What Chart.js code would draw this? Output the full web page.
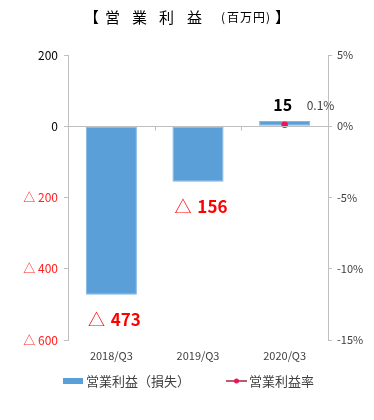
<!DOCTYPE html>
<html>
<head>
<meta charset="utf-8">
<script src="https://cdn.jsdelivr.net/npm/chart.js@4/dist/chart.umd.min.js"></script>
<style>
	body { margin: 0; background: #fff; }
	#wrap { width: 374px; height: 420px; }
</style>
</head>
<body>
<div id="wrap"><canvas id="profitChart" width="374" height="420"></canvas></div>
<script>
var FONT = "'Noto Sans CJK JP', 'Noto Sans', sans-serif";

var quarters = ['2018/Q3', '2019/Q3', '2020/Q3'];
var profit = [-473, -156, 15];
var profitRate = [null, null, 0.1];
var leftTicks = [200, 0, -200, -400, -600];
var rightTicks = [5, 0, -5, -10, -15];

function fmtProfit(v){
	return v < 0 ? '△ ' + Math.abs(v) : String(v);
}

// title, value labels, zero line and legend
var extras = {
	id: 'extras',
	afterDatasetsDraw: function(chart){
		var ctx = chart.ctx;
		var x = chart.scales.x, y = chart.scales.y, y1 = chart.scales.y1;
		var area = chart.chartArea;
		ctx.save();

		// zero line + small ticks between categories
		var y0 = Math.round(y.getPixelForValue(0)) + 0.5;
		ctx.strokeStyle = '#bfbfbf';
		ctx.lineWidth = 1;
		ctx.beginPath();
		ctx.moveTo(area.left, y0);
		ctx.lineTo(area.right, y0);
		for(var i = 1; i < quarters.length; i++){
			var bx = Math.round((x.getPixelForValue(i - 1) + x.getPixelForValue(i)) / 2) + 0.5;
			ctx.moveTo(bx, y0);
			ctx.lineTo(bx, y0 + 4);
		}
		ctx.stroke();

		// bar value labels
		ctx.textBaseline = 'middle';
		for(var i = 0; i < profit.length; i++){
			var v = profit[i];
			var px = x.getPixelForValue(i);
			var py = y.getPixelForValue(v);
			if(v < 0){
				ctx.font = '17px ' + FONT;
				var triW = ctx.measureText('△ ').width;
				ctx.font = 'bold 17px ' + FONT;
				var numW = ctx.measureText(String(Math.abs(v))).width;
				var sx = px - (triW + numW) / 2 + 2;
				ctx.textAlign = 'left';
				ctx.fillStyle = '#ff0000';
				ctx.font = '17px ' + FONT;
				ctx.fillText('△ ', sx, py + 25);
				ctx.font = 'bold 17px ' + FONT;
				ctx.fillText(String(Math.abs(v)), sx + triW + 2, py + 25);
			} else {
				ctx.textAlign = 'center';
				ctx.fillStyle = '#000000';
				ctx.font = 'bold 16px ' + FONT;
				ctx.fillText(String(v), px - 2, py - 16);
			}
		}

		// rate label
		for(var i = 0; i < profitRate.length; i++){
			if(profitRate[i] == null) continue;
			ctx.textAlign = 'left';
			ctx.fillStyle = '#404040';
			ctx.font = '12px ' + FONT;
			ctx.fillText(profitRate[i].toFixed(1) + '%', x.getPixelForValue(i) + 22, y1.getPixelForValue(profitRate[i]) - 19);
		}

		// title (characters placed with wide spacing)
		ctx.fillStyle = '#000000';
		ctx.textAlign = 'left';
		ctx.textBaseline = 'middle';
		var parts = [
			['【', '15px', 84], ['営', '15px', 105], ['業', '15px', 132], ['利', '15px', 159],
			['益', '15px', 187], ['(', '12px', 221], ['百', '12px', 227], ['万', '12px', 240],
			['円', '12px', 253], [')', '12px', 266], ['】', '15px', 275]
		];
		for(var i = 0; i < parts.length; i++){
			ctx.font = parts[i][1] + ' ' + FONT;
			ctx.fillText(parts[i][0], parts[i][2], 17);
		}

		// legend
		ctx.fillStyle = '#5b9fd9';
		ctx.fillRect(63, 378, 20, 6);
		ctx.fillStyle = '#404040';
		ctx.font = '13px ' + FONT;
		ctx.fillText('営業利益（損失）', 86, 381);
		ctx.strokeStyle = '#a32640';
		ctx.lineWidth = 1.5;
		ctx.beginPath();
		ctx.moveTo(226, 381);
		ctx.lineTo(247, 381);
		ctx.stroke();
		ctx.fillStyle = '#e8175d';
		ctx.beginPath();
		ctx.arc(236.5, 381, 2.5, 0, Math.PI * 2);
		ctx.fill();
		ctx.fillStyle = '#404040';
		ctx.fillText('営業利益率', 249, 381);

		ctx.restore();
	}
};

var chart = new Chart(document.getElementById('profitChart'), {
	type: 'bar',
	data: {
		labels: quarters,
		datasets: [
		{
			label: '営業利益（損失）',
			data: profit,
			backgroundColor: '#5b9fd9',
			borderColor: '#7fb6e3',
			borderWidth: 1,
			borderSkipped: false,
			categoryPercentage: 1,
			barPercentage: 0.59,
			yAxisID: 'y',
			order: 2
		},
		{
			type: 'line',
			label: '営業利益率',
			data: profitRate,
			borderColor: '#a32640',
			borderWidth: 1.5,
			pointBackgroundColor: '#e8175d',
			pointBorderColor: '#e8175d',
			pointRadius: 2.5,
			yAxisID: 'y1',
			order: 1
		}
		]
	},
	options: {
		responsive: false,
		animation: false,
		layout: { padding: { top: 55, left: 0, right: 0, bottom: 0 } },
		plugins: {
			legend: { display: false },
			tooltip: { enabled: false }
		},
		scales: {
			x: {
				grid: { display: false, drawTicks: false },
				border: { display: false },
				ticks: { color: '#404040', font: { family: FONT, size: 11 }, padding: 9 },
				afterFit: function(s){ s.height = 80; }
			},
			y: {
				position: 'left',
				min: -600, max: 200,
				afterBuildTicks: function(s){ s.ticks = leftTicks.map(function(v){ return {value: v}; }); },
				grid: { drawOnChartArea: false, color: '#bfbfbf', tickLength: 4 },
				border: { color: '#bfbfbf' },
				ticks: {
					font: { family: FONT, size: 12 },
					padding: 6,
					color: function(c){ return c.tick && c.tick.value < 0 ? '#ff2020' : '#000000'; },
					callback: function(v){ return fmtProfit(v); }
				},
				afterFit: function(s){ s.width = 68; }
			},
			y1: {
				position: 'right',
				min: -15, max: 5,
				afterBuildTicks: function(s){ s.ticks = rightTicks.map(function(v){ return {value: v}; }); },
				grid: { drawOnChartArea: false, color: '#bfbfbf', tickLength: 4 },
				border: { color: '#bfbfbf' },
				ticks: {
					font: { family: FONT, size: 11 },
					padding: 5,
					color: '#404040',
					callback: function(v){ return v + '%'; }
				},
				afterFit: function(s){ s.width = 46; }
			}
		}
	},
	plugins: [extras]
});
</script>
</body>
</html>
